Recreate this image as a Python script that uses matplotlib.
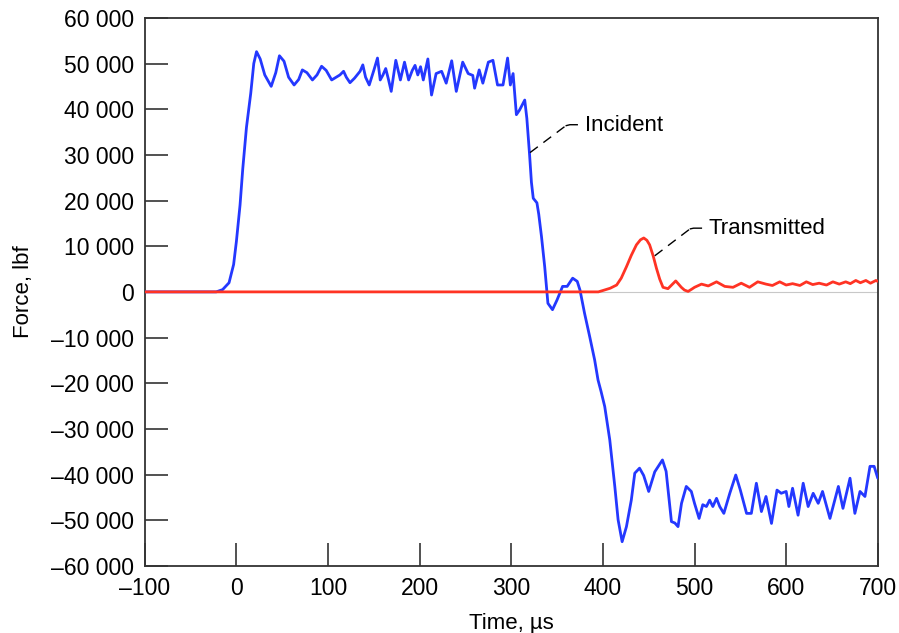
import matplotlib
matplotlib.use("Agg")
import matplotlib.pyplot as plt

plt.rcParams['font.family'] = ['Liberation Sans', 'DejaVu Sans']

# Incident pulse (time in microseconds, force in lbf)
inc_t = [-100, -60, -30, -22, -15, -8, -3, 0, 4, 7, 11, 15.7, 19, 22, 26, 31, 38, 43, 47, 52,
         57, 63, 68, 72, 77, 83, 88, 93, 98, 104, 109, 113, 117, 120, 124, 129, 135, 138, 141,
         145, 150, 154, 157, 160, 163, 166, 169, 174, 179, 183.5, 188, 192, 195, 198, 201, 204,
         209, 213, 218, 224, 229, 235, 240, 247, 253, 258, 260, 265, 269, 275, 280, 285, 291,
         296, 299, 302, 305.6, 309, 314.7, 317, 320, 322, 324, 328, 330, 333, 336.5, 340, 345,
         350, 356, 361, 367, 372, 375, 380, 385.6, 391, 394.7, 398, 402, 407.5, 413, 416.6, 421,
         425.7, 431, 434.8, 440, 444.5, 450, 456.6, 465, 469, 474.8, 478.5, 482, 485.8, 491,
         496.5, 500, 505, 509, 513, 516.5, 520, 524, 527.5, 532, 538.5, 545, 550, 556.8, 562,
         567.5, 573, 578, 584, 590, 594.6, 600, 603, 607, 613, 618.6, 624, 629.5, 635, 639.7,
         647.8, 657, 662, 669.7, 675, 680.6, 686, 691.5, 696, 700]
inc_f = [0, 0, 0, 0, 500, 2000, 6000, 11000, 19000, 27000, 36000, 43500, 50000, 52600, 51000,
         47500, 45000, 48000, 51700, 50500, 47000, 45300, 46500, 48600, 48000, 46400, 47500,
         49400, 48500, 46400, 47000, 47500, 48300, 47000, 45800, 46800, 48300, 49700, 47000,
         45300, 48500, 51200, 46400, 47500, 48900, 46500, 43900, 50700, 46400, 50300, 46400,
         48500, 49600, 47500, 49300, 46400, 51000, 43100, 47800, 48300, 45700, 50600, 43900,
         50300, 47800, 47400, 44600, 48600, 45700, 50300, 50700, 45300, 45300, 51200, 45300,
         47800, 38800, 39800, 42000, 38000, 30000, 24000, 20500, 19500, 17000, 12100, 5500,
         -2500, -3900, -1750, 1200, 1200, 3000, 2300, 400, -4700, -9800, -14900, -19300,
         -21800, -25100, -32400, -42600, -49900, -54700, -51400, -45600, -39700, -38600,
         -40200, -43700, -39400, -36800, -39300, -50300, -50600, -51400, -46300, -42600,
         -43700, -46300, -49600, -46600, -47000, -45600, -47000, -45200, -47000, -48500,
         -44100, -40100, -43400, -48500, -48500, -41900, -48100, -44800, -50700, -43400,
         -44100, -43700, -47000, -43000, -48900, -41900, -47000, -44100, -46300, -43700,
         -49600, -42600, -47400, -40800, -48500, -43700, -44800, -38200, -38200, -40800]

# Transmitted pulse
tr_t = [-100, 395, 400, 408, 415, 420, 425.7, 431, 436.6, 441, 444.6, 448, 451, 455, 458.4,
        462, 465.6, 471, 475, 479.5, 485.6, 489, 493, 497, 500, 507.6, 515, 524, 533, 542,
        551, 560, 569, 578, 585, 593, 600, 607, 615, 622, 629, 636, 644, 651, 658, 665, 670,
        676, 681, 687, 692, 698, 700]
tr_f = [0, 0, 300, 800, 1500, 3000, 5500, 8000, 10300, 11400, 11800, 11300, 10300, 7800, 5200,
        2800, 1000, 700, 1500, 2400, 1000, 400, 100, 600, 1000, 1700, 1300, 2200, 1200, 1000,
        1900, 1000, 2200, 1700, 1400, 2200, 1500, 1800, 1400, 2200, 1600, 1900, 1500, 2200,
        1700, 2200, 1800, 2500, 2000, 2500, 1900, 2500, 2300]

x_ticks = list(range(-100, 701, 100))
y_ticks = list(range(-60000, 60001, 10000))


def fmt(v):
    s = f"{abs(v):,}".replace(",", " ")
    return ("\u2013" + s) if v < 0 else s


fig = plt.figure(figsize=(8.99, 6.33), dpi=100)
ax = fig.add_axes([0.161, 0.106, 0.8154, 0.8658])

ax.axhline(0, color='#c8c8c8', lw=0.8, zorder=1)
ax.plot(inc_t, inc_f, color='#2438ff', lw=2.0, zorder=3,
        solid_joinstyle='round', solid_capstyle='round')
ax.plot(tr_t, tr_f, color='#ff3324', lw=2.0, zorder=4,
        solid_joinstyle='round', solid_capstyle='round')

# leader lines: dashed diagonal + short solid stub before the label
ax.plot([320.5, 359], [30500, 36300], color='black', lw=1.0, dashes=(7, 5), zorder=5)
ax.plot([360, 364, 372], [36400, 36600, 36600], color='black', lw=1.0, zorder=5)
ax.text(381, 36400, "Incident", fontsize=16, va='center', ha='left')
ax.plot([456.6, 494.5], [7900, 13700], color='black', lw=1.0, dashes=(7, 5), zorder=5)
ax.plot([495.5, 499, 507.5], [13800, 13950, 13950], color='black', lw=1.0, zorder=5)
ax.text(515.5, 13900, "Transmitted", fontsize=16, va='center', ha='left')

ax.set_xlim(-100, 700)
ax.set_ylim(-60000, 60000)
ax.set_xticks(x_ticks)
ax.set_xticklabels([fmt(v) for v in x_ticks])
ax.set_yticks(y_ticks)
ax.set_yticklabels([fmt(v) for v in y_ticks])
ax.tick_params(direction='in', length=16.5, width=1.2, labelsize=16.5, pad=8,
               color='#333333')
for sp in ax.spines.values():
    sp.set_color('#333333')
    sp.set_linewidth(1.3)

ax.set_xlabel("Time, \u00b5s", fontsize=16, labelpad=9)
ax.set_ylabel("Force, lbf", fontsize=16, labelpad=12)

plt.savefig("out.png", dpi=100)
